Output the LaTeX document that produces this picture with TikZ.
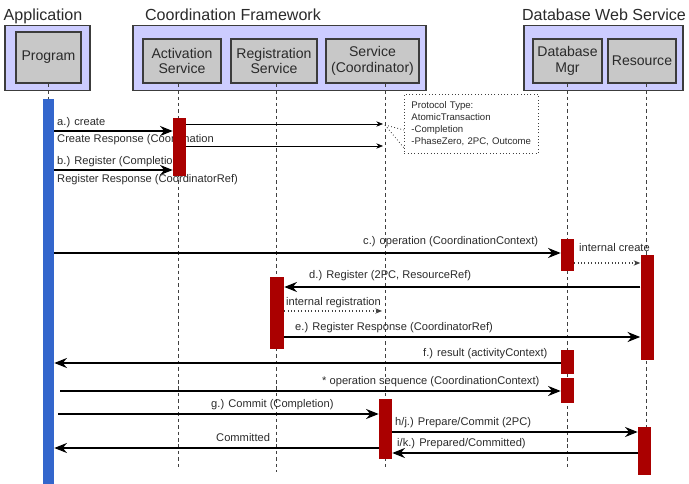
\documentclass[tikz,border=0pt]{standalone}
\usepackage{fontspec}
\setmainfont{Liberation Sans}
\usetikzlibrary{positioning,arrows.meta,calc}
\definecolor{sdLilac}{HTML}{CCCCFF}
\definecolor{sdGrey}{HTML}{C8C8C8}
\definecolor{sdEdge}{HTML}{3C3C3C}
\definecolor{sdBlue}{HTML}{3366CC}
\definecolor{sdRed}{HTML}{AA0000}
\definecolor{sdLine}{HTML}{404040}
\definecolor{sdText}{HTML}{2A2A2A}

\begin{document}
\begin{tikzpicture}[
  x=0.03cm, y=-0.03cm,
  grupo/.style={draw=sdEdge, fill=sdLilac, line width=1.1pt, minimum height=1.95cm},
  caja/.style={draw=sdEdge, fill=sdGrey, line width=1.1pt, minimum height=1.32cm, align=center,
               font=\fontsize{12}{13.6}\selectfont, text=sdText},
  titulo/.style={anchor=base, font=\fontsize{13.7}{16}\selectfont, text=sdText},
  barra/.style={fill=sdRed, anchor=north, minimum width=0.39cm, inner sep=0pt},
  vida/.style={sdLine, line width=0.8pt, dash pattern=on 3pt off 2.5pt},
  etiq/.style={anchor=base west, inner sep=0pt, font=\fontsize{9.5}{11}\selectfont, text=sdText},
  flecha/.style={-{Stealth[length=3.8mm, width=3mm]}, line width=2pt, black},
  fina/.style={-{Stealth[length=2mm, width=1.6mm]}, line width=0.6pt, black},
  interna/.style={-{Stealth[length=2mm, width=1.6mm]}, dotted, line width=0.9pt, sdLine},
  enlace/.style={dotted, line width=0.7pt, sdLine}
]
\useasboundingbox (0,0) rectangle (689,484);

% participant groups
\node[grupo, minimum width=2.55cm] (app) at (47.5,58) {};
\node[grupo, minimum width=8.79cm] (cf) at (279.5,58) {};
\node[grupo, minimum width=4.77cm] (dws) at (603.5,58) {};
\node[titulo] (tApp) at (43,21) {Application};
\node[titulo] (tCf) at (233,21) {Coordination Framework};
\node[titulo] (tDws) at (604,21) {Database Web Service};

\node[caja, minimum width=1.95cm, minimum height=1.53cm] (prog) at (48.5,57.5) {Program};
\node[caja, minimum width=2.34cm] (act) at (182,61) {Activation\\Service};
\node[caja, minimum width=2.58cm] (reg) at (274,61) {Registration\\Service};
\node[caja, minimum width=2.79cm] (svc) at (372.5,61) {Service\\(Coordinator)};
\node[caja, minimum width=2.07cm] (dbm) at (567.5,61) {Database\\Mgr};
\node[caja, minimum width=2.04cm] (res) at (642,61) {Resource};

% lifelines
\node[fill=sdBlue, anchor=north, minimum width=0.33cm, minimum height=11.55cm, inner sep=0pt]
  (pbar) at (48.5,99) {};
\coordinate (lAct) at (178,470);
\coordinate (lReg) at (276,472);
\coordinate (lSvc) at (385,468);
\coordinate (lDbm) at (567,470);
\coordinate (lRes) at (646,476);
\draw[vida] (prog.south) -- (pbar.north);
\draw[vida] (act.south -| lAct) -- (lAct);
\draw[vida] (reg.south -| lReg) -- (lReg);
\draw[vida] (svc.south -| lSvc) -- (lSvc);
\draw[vida] (dbm.south -| lDbm) -- (lDbm);
\draw[vida] (res.south -| lRes) -- (lRes);

% message labels
\node[etiq] (tA) at (57,126) {a.) create};
\node[etiq] (tA2) at (57,143) {Create Response (Coordination};
\node[etiq] (tB) at (57,165) {b.) Register (Completion)};
\node[etiq] (tB2) at (57,183) {Register Response (CoordinatorRef)};
\node[etiq] (tC) at (363,245) {c.) operation (CoordinationContext)};
\node[etiq] (tInt) at (579,252) {internal create};
\node[etiq] (tD) at (309,279) {d.) Register (2PC, ResourceRef)};
\node[etiq] (tIr) at (286,306) {internal registration};
\node[etiq] (tE) at (295,331) {e.) Register Response (CoordinatorRef)};
\node[etiq] (tF) at (423,357) {f.) result (activityContext)};
\node[etiq] (tOp) at (322,385) {* operation sequence (CoordinationContext)};
\node[etiq] (tG) at (211,408) {g.) Commit (Completion)};
\node[etiq] (tH) at (395,426) {h/j.) Prepare/Commit (2PC)};
\node[etiq] (tI) at (397,447) {i/k.) Prepared/Committed)};
\node[etiq] (tCm) at (216,442) {Committed};

% activations
\node[barra, minimum height=1.74cm] (a1) at (179.5,118) {};
\node[barra, minimum height=0.96cm] (d1) at (567.5,239) {};
\node[barra, minimum height=3.15cm] (r1) at (647,255) {};
\node[barra, minimum height=2.16cm, minimum width=0.42cm] (g1) at (277,277) {};
\node[barra, minimum height=0.72cm] (d2) at (567.5,350) {};
\node[barra, minimum height=0.75cm] (d3) at (567.5,378) {};
\node[barra, minimum height=1.8cm] (c1) at (385.5,399) {};
\node[barra, minimum height=1.44cm] (r2) at (644.5,427) {};

% protocol note
\node[draw=sdLine, dotted, line width=0.8pt, anchor=north west, minimum width=4.02cm,
      minimum height=1.77cm, text width=3.6cm, inner xsep=0.2cm, align=left,
      font=\fontsize{8.2}{10.2}\selectfont, text=sdText] (note) at (404,94)
  {Protocol Type:\\AtomicTransaction\\-Completion\\-PhaseZero, 2PC, Outcome};
\coordinate (tip1) at (383,124);
\coordinate (tip2) at (383,146);
\coordinate (tip3) at (382,311);
\coordinate (nudo) at (385,125);
\draw[enlace] (nudo) -- (note.west |- 0,130);
\draw[enlace] (nudo) -- (note.west |- 0,148);

% messages
\draw[flecha] (pbar.east |- 0,131) -- (a1.west |- 0,131);
\draw[fina] (a1.east |- tip1) -- (tip1);
\draw[fina] (a1.east |- tip2) -- (tip2);
\draw[flecha] (pbar.east |- 0,170) -- (a1.west |- 0,170);
\draw[flecha] (pbar.east |- 0,253) -- (d1.west |- 0,253);
\draw[interna] (d1.east |- 0,263) -- (r1.west |- 0,263);
\draw[flecha] (r1.west |- 0,287) -- (g1.east |- 0,287);
\draw[interna] (g1.east |- tip3) -- (tip3);
\draw[flecha] (g1.east |- 0,337) -- (r1.west |- 0,337);
\draw[flecha] (d2.west |- 0,363) -- (pbar.east |- 0,363);
\draw[flecha, shorten <=0.18cm] (pbar.east |- 0,391) -- (d3.west |- 0,391);
\draw[flecha, shorten <=0.12cm] (pbar.east |- 0,414) -- (c1.west |- 0,414);
\draw[flecha] (c1.east |- 0,432) -- (r2.west |- 0,432);
\draw[flecha] (r2.west |- 0,453) -- (c1.east |- 0,453);
\draw[flecha] (c1.west |- 0,448) -- (pbar.east |- 0,448);

\end{tikzpicture}
\end{document}
